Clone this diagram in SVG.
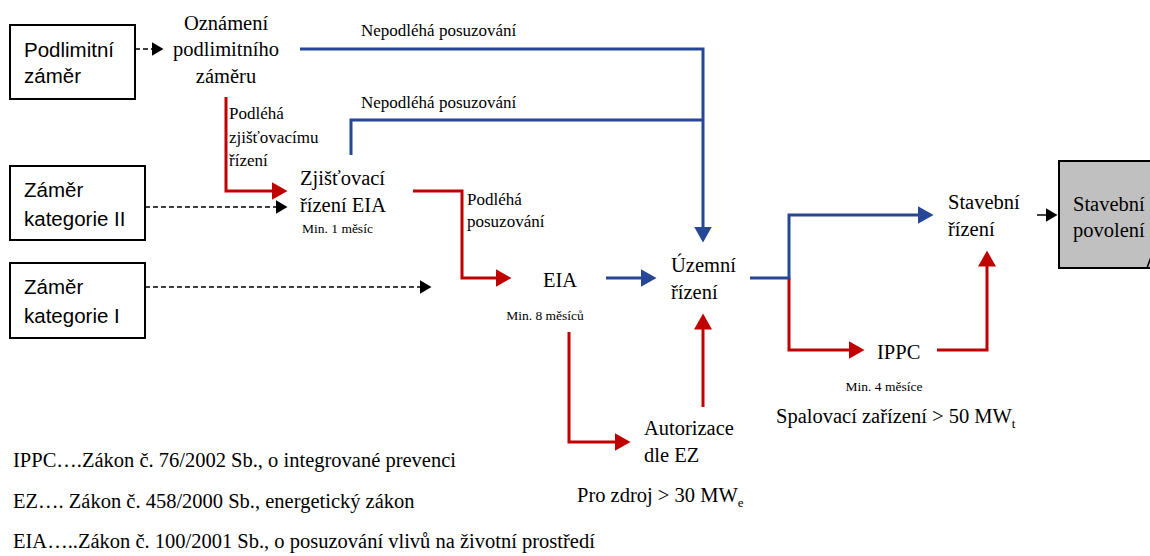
<svg xmlns="http://www.w3.org/2000/svg" width="1150" height="556" viewBox="0 0 1150 556">
  <style>
    .box { fill: #ffffff; stroke: #000000; stroke-width: 2; }
    .final { fill: #c0c0c0; stroke: #000000; stroke-width: 2; }
    .sans { font-family: 'Liberation Sans', Arial, sans-serif; font-size: 20.5px; fill: #000000; }
    .serif { font-family: 'Liberation Serif', 'DejaVu Serif', serif; fill: #000000; }
    .node { font-size: 20.5px; }
    .note { font-size: 17px; }
    .small { font-size: 13.5px; }
    .legend { font-size: 20.5px; }
    .dash { fill: none; stroke: #000000; stroke-width: 1.5; stroke-dasharray: 5 3; }
    .plain { fill: none; stroke: #000000; stroke-width: 1.5; }
    .red { fill: none; stroke: #c00000; stroke-width: 3; }
    .blue { fill: none; stroke: #264796; stroke-width: 3; }
  </style>
  <defs>
    <marker id="headBlack" markerUnits="userSpaceOnUse" markerWidth="13" markerHeight="14" refX="0.5" refY="7" orient="auto">
      <path d="M0,0 L12,7 L0,14 Z" fill="#000000"/>
    </marker>
    <marker id="headRed" markerUnits="userSpaceOnUse" markerWidth="17" markerHeight="18" refX="0.5" refY="9" orient="auto">
      <path d="M0,0 L16,9 L0,18 Z" fill="#c00000"/>
    </marker>
    <marker id="headBlue" markerUnits="userSpaceOnUse" markerWidth="17" markerHeight="18" refX="0.5" refY="9" orient="auto">
      <path d="M0,0 L16,9 L0,18 Z" fill="#264796"/>
    </marker>
  </defs>

  <!-- connectors -->
  <g id="connectors">
    <!-- dashed entry arrows -->
    <path class="dash" d="M135,49 H152" marker-end="url(#headBlack)"/>
    <path class="dash" d="M145,207 H276" marker-end="url(#headBlack)"/>
    <path class="dash" d="M145,287 H420" marker-end="url(#headBlack)"/>
    <!-- not subject to assessment -->
    <path class="blue" d="M300,49 H703 V227" marker-end="url(#headBlue)"/>
    <path class="blue" d="M351,155 V120 H703"/>
    <!-- screening and assessment path -->
    <path class="red" d="M226,97 V191 H272" marker-end="url(#headRed)"/>
    <path class="red" d="M413,191 H462 V278 H496" marker-end="url(#headRed)"/>
    <path class="blue" d="M606,278 H641" marker-end="url(#headBlue)"/>
    <path class="red" d="M569,332 V442 H615" marker-end="url(#headRed)"/>
    <path class="red" d="M703,407 V329" marker-end="url(#headRed)"/>
    <!-- after zoning decision -->
    <path class="red" d="M789,278 V350 H849" marker-end="url(#headRed)"/>
    <path class="blue" d="M750,278 H789 V215 H918" marker-end="url(#headBlue)"/>
    <path class="red" d="M937,350 H987 V266" marker-end="url(#headRed)"/>
    <path class="plain" d="M1037,215 H1046" marker-end="url(#headBlack)"/>
  </g>

  <!-- connector labels -->
  <g id="labels" class="serif note">
    <text x="361" y="36">Nepodléhá posuzování</text>
    <text x="361" y="108">Nepodléhá posuzování</text>
    <text x="229" y="119">Podléhá</text>
    <text x="229" y="143">zjišťovacímu</text>
    <text x="229" y="166">řízení</text>
    <text x="467" y="205">Podléhá</text>
    <text x="467" y="227">posuzování</text>
  </g>

  <g id="podlimitni">
    <rect class="box" x="10" y="25" width="125" height="74"/>
    <text class="sans" x="24" y="57">Podlimitní</text>
    <text class="sans" x="24" y="83">záměr</text>
  </g>

  <g id="kategorie-II">
    <rect class="box" x="10" y="166" width="135" height="74"/>
    <text class="sans" x="24" y="197">Záměr</text>
    <text class="sans" x="24" y="226">kategorie II</text>
  </g>

  <g id="kategorie-I">
    <rect class="box" x="10" y="263" width="135" height="75"/>
    <text class="sans" x="24" y="294">Záměr</text>
    <text class="sans" x="24" y="323">kategorie I</text>
  </g>

  <g id="oznameni" class="serif node" text-anchor="middle">
    <text x="226" y="30">Oznámení</text>
    <text x="226" y="56">podlimitního</text>
    <text x="226" y="83">záměru</text>
  </g>

  <g id="zjistovaci" class="serif">
    <text class="node" x="300" y="185">Zjišťovací</text>
    <text class="node" x="300" y="212">řízení EIA</text>
    <text class="small" x="302" y="233">Min. 1 měsíc</text>
  </g>

  <g id="eia" class="serif" text-anchor="middle">
    <text class="node" x="560" y="287">EIA</text>
    <text class="small" x="545" y="320">Min. 8 měsíců</text>
  </g>

  <g id="uzemni" class="serif node">
    <text x="671" y="272">Územní</text>
    <text x="671" y="299">řízení</text>
  </g>

  <g id="autorizace" class="serif">
    <text class="node" x="644" y="435">Autorizace</text>
    <text class="node" x="644" y="462">dle EZ</text>
    <text class="node" x="577" y="502">Pro zdroj &gt; 30 MW<tspan font-size="13" dy="5">e</tspan></text>
  </g>

  <g id="ippc" class="serif">
    <text class="node" x="877" y="359">IPPC</text>
    <text class="small" x="884" y="391" text-anchor="middle">Min. 4 měsíce</text>
    <text class="node" x="776" y="423">Spalovací zařízení &gt; 50 MW<tspan font-size="13" dy="5">t</tspan></text>
  </g>

  <g id="stavebni-rizeni" class="serif node">
    <text x="948" y="209">Stavební</text>
    <text x="948" y="236">řízení</text>
  </g>

  <g id="stavebni-povoleni">
    <rect class="final" x="1059" y="161" width="110" height="107"/>
    <path class="plain" d="M1147,268 L1151,257"/>
    <text class="serif node" x="1073" y="211">Stavební</text>
    <text class="serif node" x="1073" y="237">povolení</text>
  </g>

  <!-- abbreviations -->
  <g id="legend" class="serif legend">
    <text x="13" y="467">IPPC….Zákon č. 76/2002 Sb., o integrované prevenci</text>
    <text x="13" y="508">EZ…. Zákon č. 458/2000 Sb., energetický zákon</text>
    <text x="13" y="548">EIA…..Zákon č. 100/2001 Sb., o posuzování vlivů na životní prostředí</text>
  </g>
</svg>
